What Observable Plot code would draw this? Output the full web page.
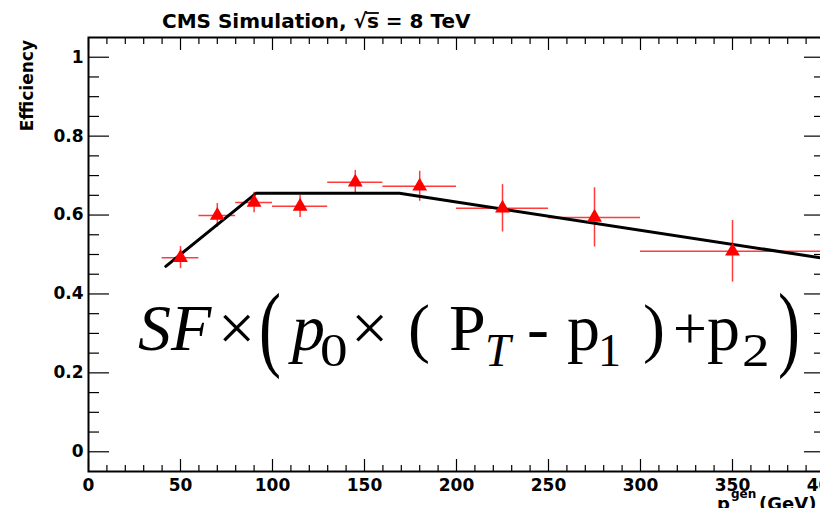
<!DOCTYPE html>
<html><head><meta charset="utf-8">
<script src="https://cdn.jsdelivr.net/npm/d3@7"></script>
<script src="https://cdn.jsdelivr.net/npm/@observablehq/plot@0.6"></script>
<style>html,body{margin:0;padding:0;background:#fff;overflow:hidden;width:820px;height:508px}</style>
</head><body><div id="chart"></div>
<script>
// ---- data ----
const ptBin  = [50, 70, 90, 115, 145, 180, 225, 275, 350];
const binLo  = [40, 60, 80, 100, 130, 160, 200, 250, 300];
const binHi  = [60, 80, 100, 130, 160, 200, 250, 300, 400];
const eff    = [0.492, 0.599, 0.632, 0.622, 0.683, 0.673, 0.617, 0.594, 0.508];
const effErr = [0.028, 0.030, 0.026, 0.028, 0.030, 0.038, 0.060, 0.075, 0.078];
const fitX   = [42, 91, 169, 400];
const fitY   = [0.470, 0.655, 0.655, 0.490];
const xMajor = [0, 50, 100, 150, 200, 250, 300, 350, 400];
const xMinor = [10,20,30,40,60,70,80,90,110,120,130,140,160,170,180,190,210,220,230,240,260,270,280,290,310,320,330,340,360,370,380,390];
const yMajor = [0, 0.2, 0.4, 0.6, 0.8, 1];
const yMinor = [0.05,0.1,0.15,0.25,0.3,0.35,0.45,0.5,0.55,0.65,0.7,0.75,0.85,0.9,0.95];
const titleParts = ["CMS Simulation, ", "\u221A", "s", " = 8 TeV"];
const yLabel = "Efficiency";

const points = ptBin.map((x, i) => ({x, lo: binLo[i], hi: binHi[i], y: eff[i], e: effErr[i]}));
const fit = fitX.map((x, i) => ({x, y: fitY[i]}));

const red = "#ff3b3b";
const chart = Plot.plot({
  width: 820, height: 508,
  marginLeft: 88, marginRight: -4, marginTop: 37, marginBottom: 37,
  x: {domain: [0, 400]},
  y: {domain: [-0.05, 1.05]},
  style: {fontFamily: "DejaVu Sans", fontSize: "17px", fontWeight: "bold", color: "black", background: "white", overflow: "hidden"},
  marks: [
    Plot.axisX(xMajor, {anchor: "bottom", tickSize: -12, fill: "none", label: null, strokeWidth: 1.2}),
    Plot.axisX(xMinor, {anchor: "bottom", tickSize: -6, fill: "none", label: null, strokeWidth: 1.2}),
    Plot.axisX(xMajor, {anchor: "top", tickSize: -12, fill: "none", label: null, strokeWidth: 1.2}),
    Plot.axisX(xMinor, {anchor: "top", tickSize: -6, fill: "none", label: null, strokeWidth: 1.2}),
    Plot.axisY(yMajor, {anchor: "left", tickSize: -21, fill: "none", label: null, strokeWidth: 1.2}),
    Plot.axisY(yMinor, {anchor: "left", tickSize: -11, fill: "none", label: null, strokeWidth: 1.2}),
    Plot.axisY(yMajor, {anchor: "right", tickSize: -21, fill: "none", label: null, strokeWidth: 1.2}),
    Plot.axisY(yMinor, {anchor: "right", tickSize: -11, fill: "none", label: null, strokeWidth: 1.2}),
    Plot.axisX(xMajor, {anchor: "bottom", tickSize: 0, tickPadding: 7, label: null, tickFormat: d => String(d)}),
    Plot.axisY(yMajor, {anchor: "left", tickSize: 0, tickPadding: 5, label: null, tickFormat: d => String(+d.toFixed(1))}),
    Plot.frame({stroke: "black", strokeWidth: 2}),
    Plot.ruleY(points, {y: "y", x1: "lo", x2: "hi", stroke: red, strokeWidth: 1.5}),
    Plot.ruleX(points, {x: "x", y1: d => d.y - d.e, y2: d => d.y + d.e, stroke: red, strokeWidth: 1.5}),
    Plot.line(fit, {x: "x", y: "y", stroke: "black", strokeWidth: 3}),
    Plot.dot(points, {x: "x", y: "y", symbol: "triangle", r: 5.5, fill: "red"})
  ]
});
document.getElementById("chart").append(chart);
const svg = d3.select(chart);

// title
let tx = 162;
const ty = 28;
titleParts.forEach((s, i) => {
  const t = svg.append("text").attr("x", tx).attr("y", ty).attr("text-anchor", "start")
    .style("white-space", "pre")
    .attr("font-family", "DejaVu Sans").attr("font-weight", "bold").attr("font-size", 20).attr("fill", "black")
    .text(s);
  const w = t.node().getComputedTextLength();
  if (i === 2) {
    svg.append("line").attr("x1", tx - 1).attr("x2", tx + w).attr("y1", ty - 15).attr("y2", ty - 15)
      .attr("stroke", "black").attr("stroke-width", 1.8);
  }
  tx += w;
});

// y label
svg.append("text").attr("transform", "translate(33,40) rotate(-90)").attr("text-anchor", "end")
  .attr("font-family", "DejaVu Sans").attr("font-weight", "bold").attr("font-size", 17).text(yLabel);

// x label
const xl = (s, x, y, size) => svg.append("text").attr("x", x).attr("y", y).attr("text-anchor", "start")
  .attr("font-family", "DejaVu Sans").attr("font-weight", "bold").attr("font-size", size).text(s);
xl("p", 717, 510, 18);
xl("gen", 731, 498, 12);
xl("(GeV)", 759, 510, 18);

// formula
const F = "Liberation Serif, Times New Roman, serif";
function put(str, x, y, size, italic = false, sx = 1, sy = 1) {
  svg.append("text").attr("transform", `translate(${x},${y}) scale(${sx},${sy})`).attr("text-anchor", "start")
    .attr("font-family", F).attr("font-size", size).attr("font-weight", "normal")
    .attr("font-style", italic ? "italic" : "normal").attr("fill", "black").text(str);
}
put("SF", 138, 350, 66, true);
put("\u00D7", 218, 350, 66);
put("(", 259, 359, 66, false, 1, 1.43);
put("p", 292, 350, 66, true);
put("0", 320, 366, 46, false, 1.2);
put("\u00D7", 351, 350, 66);
put("(", 408, 350, 66);
put("P", 449, 350, 66);
put("T", 485, 366, 46, true);
put("-", 527, 350, 66);
put("p", 567, 350, 66);
put("1", 598, 366, 46);
put(")", 643, 350, 66);
put("+", 673, 348, 60);
put("p", 707, 350, 66);
put("2", 742, 366, 46, false, 1.2);
put(")", 778, 359, 66, false, 1, 1.43);
</script></body></html>
